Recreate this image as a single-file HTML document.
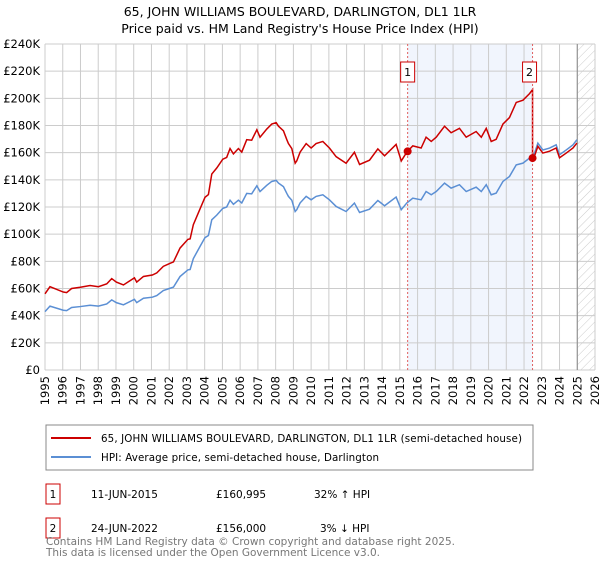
<!DOCTYPE html>
<html><head><meta charset="utf-8"><style>
body{margin:0;background:#fff;font-family:"Liberation Sans","DejaVu Sans",sans-serif;}
svg text{font-family:"DejaVu Sans","Liberation Sans",sans-serif;}
</style></head><body>
<svg id="c" width="600" height="560" xmlns="http://www.w3.org/2000/svg">
<defs><pattern id="hatch" width="6" height="6" patternUnits="userSpaceOnUse" patternTransform="rotate(45)"><line x1="0" y1="0" x2="0" y2="6" stroke="#ccc" stroke-width="1"/></pattern></defs>
<text x="300" y="16" text-anchor="middle" font-size="12.5">65, JOHN WILLIAMS BOULEVARD, DARLINGTON, DL1 1LR</text>
<text x="300" y="33" text-anchor="middle" font-size="12.5">Price paid vs. HM Land Registry's House Price Index (HPI)</text>
<g id="plot"></g>
<rect x="46" y="425" width="487" height="45" fill="#fff" stroke="#888"/>
<line x1="51" y1="438" x2="91" y2="438" stroke="#cc0000" stroke-width="2"/>
<text x="101" y="442" font-size="10.3" textLength="421">65, JOHN WILLIAMS BOULEVARD, DARLINGTON, DL1 1LR (semi-detached house)</text>
<line x1="51" y1="457" x2="91" y2="457" stroke="#5b8fd4" stroke-width="2"/>
<text x="101" y="461" font-size="10.3" textLength="278">HPI: Average price, semi-detached house, Darlington</text>
<g>
<rect x="46" y="484" width="14" height="20" fill="#fff" stroke="#cc0000"/><text x="53" y="498" text-anchor="middle" font-size="10.5">1</text>
<text x="91" y="498" font-size="10.5">11-JUN-2015</text><text x="216" y="498" font-size="10.5">£160,995</text><text x="314" y="498" font-size="10.5">32% ↑ HPI</text></g>
<g>
<rect x="46" y="518" width="14" height="20" fill="#fff" stroke="#cc0000"/><text x="53" y="532" text-anchor="middle" font-size="10.5">2</text>
<text x="91" y="532" font-size="10.5">24-JUN-2022</text><text x="216" y="532" font-size="10.5">£156,000</text><text x="320" y="532" font-size="10.5">3% ↓ HPI</text></g>
<text x="46" y="545" font-size="10.5" fill="#777" textLength="409">Contains HM Land Registry data © Crown copyright and database right 2025.</text>
<text x="46" y="556" font-size="10.5" fill="#777" textLength="334">This data is licensed under the Open Government Licence v3.0.</text>
</svg>
<script>
const hpiYears=[1995.00,1995.28,1996.03,1996.22,1996.50,1996.99,1997.54,1998.01,1998.48,1998.76,1999.02,1999.42,2000.04,2000.17,2000.55,2001.05,2001.30,2001.67,2002.05,2002.24,2002.61,2003.05,2003.18,2003.36,2003.74,2004.02,2004.21,2004.40,2004.68,2005.02,2005.24,2005.43,2005.62,2005.90,2006.09,2006.37,2006.65,2006.94,2007.12,2007.50,2007.78,2008.03,2008.16,2008.44,2008.63,2008.72,2008.91,2009.10,2009.19,2009.38,2009.72,2010.00,2010.28,2010.66,2011.03,2011.41,2011.97,2012.44,2012.73,2013.29,2013.76,2014.14,2014.79,2015.08,2015.39,2015.73,2016.20,2016.48,2016.77,2017.05,2017.52,2017.89,2018.36,2018.74,2019.30,2019.59,2019.87,2020.15,2020.43,2020.81,2021.18,2021.56,2021.94,2022.31,2022.59,2022.78,2023.06,2023.44,2023.81,2024.00,2024.38,2024.76,2024.98];
const hpiValues=[43,47,44,43.7,46,46.7,47.7,47,48.6,51.6,49.6,48,52,49.6,52.8,53.6,54.8,58.5,60.2,61,68.8,73.7,74,82,91,97.5,99,110.6,114,119,120,125,122,125,123,130,129.7,135.6,131.4,136,138.8,139.6,137.6,135,130,127.8,125,116.7,118,123,127.8,125.3,127.8,129,125.3,120.4,116.7,122.9,116,118.4,124.8,120.9,127.3,118,122.9,126.5,125.3,131.4,129,131.4,137.6,133.9,136.4,131.4,134.6,131.4,136.4,129,130.2,138.8,142.5,151,152.3,156,159.7,167,162,163.4,165.8,158.5,162,165.8,169.5];
const saleDates=[2015.44,2022.48];
const salePrices=[160995,156000];
const saleLabels=["1","2"];
const yTicks=[0,20,40,60,80,100,120,140,160,180,200,220,240];
const xTicks=[1995,1996,1997,1998,1999,2000,2001,2002,2003,2004,2005,2006,2007,2008,2009,2010,2011,2012,2013,2014,2015,2016,2017,2018,2019,2020,2021,2022,2023,2024,2025,2026];
const NS="http://www.w3.org/2000/svg";
const X0=45,X1=595,Y0=370,Y1=44;
const xs=y=>X0+(y-1995)/(2026-1995)*(X1-X0);
const ys=v=>Y0-v/240*(Y0-Y1);
const g=document.getElementById('plot');
function mk(t,a){const e=document.createElementNS(NS,t);for(const k in a)e.setAttribute(k,a[k]);g.appendChild(e);return e;}
function hpiAt(t){for(let i=1;i<hpiYears.length;i++){if(t<=hpiYears[i]){const f=(t-hpiYears[i-1])/(hpiYears[i]-hpiYears[i-1]);return hpiValues[i-1]+f*(hpiValues[i]-hpiValues[i-1]);}}return hpiValues[hpiValues.length-1];}
let e;
e=mk('rect',{x:xs(saleDates[0]),y:Y1,width:xs(saleDates[1])-xs(saleDates[0]),height:Y0-Y1,fill:'#eef3fc',opacity:0.8});


e=mk('rect',{x:xs(2025),y:Y1,width:X1-xs(2025),height:Y0-Y1,fill:'url(#hatch)'});


yTicks.forEach(v=>{
 e=mk('line',{x1:X0,x2:X1,y1:ys(v),y2:ys(v),stroke:'#ccc','stroke-width':1});
 
 
 e=mk('text',{x:X0-5,y:ys(v)+4,'text-anchor':'end','font-size':11.5});
 e.textContent=v===0?'£0':'£'+v+'K';
 
 
});
xTicks.forEach(y=>{
 e=mk('line',{x1:xs(y),x2:xs(y),y1:Y1,y2:Y0,stroke:'#ccc','stroke-width':1});
 
 
 e=mk('text',{x:0,y:0,'text-anchor':'end','font-size':11.5,transform:`translate(${xs(y)+4},${Y0+6}) rotate(-90)`});
 e.textContent=y;
 
 
});
e=mk('line',{x1:xs(2025),x2:xs(2025),y1:Y1,y2:Y0,stroke:'#888','stroke-width':1});


e=mk('polyline',{points:hpiYears.map((y,i)=>xs(y)+','+ys(hpiValues[i])).join(' '),fill:'none',stroke:'#5b8fd4','stroke-width':1.5});


const f1=salePrices[0]/1000/hpiAt(saleDates[0]);
const f2=salePrices[1]/1000/hpiAt(saleDates[1]);
let pts=[];
hpiYears.forEach((y,i)=>{if(y<saleDates[1])pts.push(xs(y)+','+ys(hpiValues[i]*f1));});
pts.push(xs(saleDates[1])+','+ys(hpiAt(saleDates[1])*f1));
pts.push(xs(saleDates[1])+','+ys(salePrices[1]/1000));
hpiYears.forEach((y,i)=>{if(y>saleDates[1])pts.push(xs(y)+','+ys(hpiValues[i]*f2));});
e=mk('polyline',{points:pts.join(' '),fill:'none',stroke:'#cc0000','stroke-width':1.5});


saleDates.forEach((d,i)=>{
 e=mk('line',{x1:xs(d),x2:xs(d),y1:Y1,y2:Y0,stroke:'#e06060','stroke-width':1,'stroke-dasharray':'2,2'});
 
 
 e=mk('circle',{cx:xs(d),cy:ys(salePrices[i]/1000),r:4,fill:'#cc0000'});
 
 
 e=mk('rect',{x:xs(d)-7-(i?3:0),y:62,width:14,height:20,fill:'#fff',stroke:'#cc0000'});
 
 
 e=mk('text',{x:xs(d)-(i?3:0),y:76,'text-anchor':'middle','font-size':11});
 e.textContent=saleLabels[i];
 
 
});
</script>
</body></html>
